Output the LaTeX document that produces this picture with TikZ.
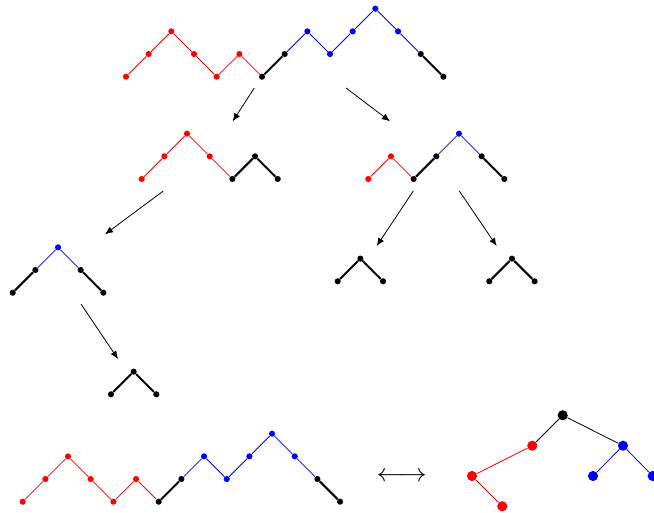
\documentclass[tikz,border=0pt]{standalone}
\usetikzlibrary{arrows.meta}
\tikzset{
  dot/.style={circle,inner sep=0pt,minimum size=4.6pt,draw=none},
  bigdot/.style={circle,inner sep=0pt,minimum size=7.6pt,draw=none},
  rseg/.style={red,line width=0.6pt},
  bseg/.style={blue,line width=0.6pt},
  kseg/.style={black,line width=1.5pt},
  tedge/.style={line width=0.6pt},
  arr/.style={-{Latex[length=6pt,width=5pt]},line width=0.6pt},
}
\newcommand\dyckdots[4]{%
  \foreach \h/\c [count=\i from 0] in {#4} {
    \node[dot,fill=\c] (#1\i) at ({#2+22.67*\i},{#3-22.67*\h}) {};
  }}
\newcommand\dycksegs[2]{%
  \foreach \a/\b/\s in {#2} { \draw[\s] (#1\a) -- (#1\b); }}
\begin{document}
\begin{tikzpicture}[x=0.75pt,y=-0.75pt]
\useasboundingbox (0,0) rectangle (654,513);
% top path
\dyckdots{T}{126}{76.7}{0/red,1/red,2/red,1/red,0/red,1/red,0/black,1/black,2/blue,1/blue,2/blue,3/blue,2/blue,1/black,0/black}
\dycksegs{T}{0/1/rseg,1/2/rseg,2/3/rseg,3/4/rseg,4/5/rseg,5/6/rseg,6/7/kseg,7/8/bseg,8/9/bseg,9/10/bseg,10/11/bseg,11/12/bseg,12/13/bseg,13/14/kseg}
% second row left
\dyckdots{L}{141.7}{179}{0/red,1/red,2/red,1/red,0/black,1/black,0/black}
\dycksegs{L}{0/1/rseg,1/2/rseg,2/3/rseg,3/4/rseg,4/5/kseg,5/6/kseg}
% second row right
\dyckdots{R}{368.3}{179}{0/red,1/red,0/black,1/black,2/blue,1/black,0/black}
\dycksegs{R}{0/1/rseg,1/2/rseg,2/3/kseg,3/4/bseg,4/5/bseg,5/6/kseg}
% third row left
\dyckdots{M}{12.7}{292.7}{0/black,1/black,2/blue,1/black,0/black}
\dycksegs{M}{0/1/kseg,1/2/bseg,2/3/bseg,3/4/kseg}
% third row right peaks
\dyckdots{P}{337.7}{281.3}{0/black,1/black,0/black}
\dycksegs{P}{0/1/kseg,1/2/kseg}
\dyckdots{Q}{489.3}{281.3}{0/black,1/black,0/black}
\dycksegs{Q}{0/1/kseg,1/2/kseg}
% fourth row
\dyckdots{S}{111}{394.3}{0/black,1/black,0/black}
\dycksegs{S}{0/1/kseg,1/2/kseg}
% bottom path
\dyckdots{B}{22.7}{501.7}{0/red,1/red,2/red,1/red,0/red,1/red,0/black,1/black,2/blue,1/blue,2/blue,3/blue,2/blue,1/black,0/black}
\dycksegs{B}{0/1/rseg,1/2/rseg,2/3/rseg,3/4/rseg,4/5/rseg,5/6/rseg,6/7/kseg,7/8/bseg,8/9/bseg,9/10/bseg,10/11/bseg,11/12/bseg,12/13/bseg,13/14/kseg}
% arrows
\coordinate (a1s) at (254.3,88);  \coordinate (a1e) at (232.7,121.3);
\coordinate (a2s) at (346,88);    \coordinate (a2e) at (390,121.3);
\coordinate (a3s) at (163.3,191); \coordinate (a3e) at (105,234.3);
\coordinate (a4s) at (413.3,191); \coordinate (a4e) at (376.7,246);
\coordinate (a5s) at (459.3,191); \coordinate (a5e) at (496.7,246);
\coordinate (a6s) at (81,304);    \coordinate (a6e) at (118,359);
\foreach \k in {1,...,6} { \draw[arr] (a\k s) -- (a\k e); }
% double arrow
\node[inner sep=0pt,xscale=2.05,yscale=1.9] (dbl) at (401.7,476.7) {$\longleftrightarrow$};
% tree
\node[bigdot,fill=black] (tr) at (562.7,415.3) {};
\node[bigdot,fill=red]   (ra) at (532.3,445.7) {};
\node[bigdot,fill=blue]  (ba) at (623,445.7) {};
\node[bigdot,fill=red]   (rb) at (472,476) {};
\node[bigdot,fill=blue]  (bb) at (593,476) {};
\node[bigdot,fill=blue]  (bc) at (652.7,476) {};
\node[bigdot,fill=red]   (rc) at (502.3,506.3) {};
\draw[tedge] (tr) -- (ra);
\draw[tedge] (tr) -- (ba);
\draw[tedge,red] (ra) -- (rb);
\draw[tedge,red] (rb) -- (rc);
\draw[tedge,blue] (ba) -- (bb);
\draw[tedge,blue] (ba) -- (bc);
\end{tikzpicture}
\end{document}
